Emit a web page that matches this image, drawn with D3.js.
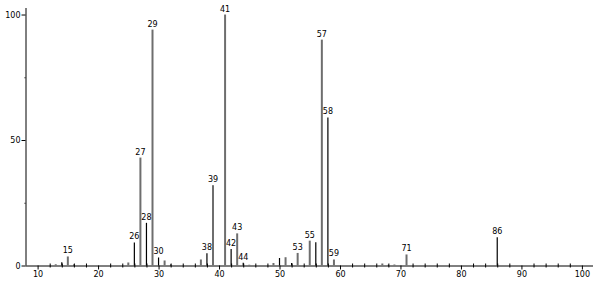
<!DOCTYPE html>
<html>
<head>
<meta charset="utf-8">
<script src="https://cdn.jsdelivr.net/npm/d3@7"></script>
<style>
  body { margin: 0; background: #fff; }
  svg text { font-family: "DejaVu Sans", sans-serif; font-size: 8px; fill: #000; }
  .axis path, .axis line { stroke: #000; }
</style>
</head>
<body>
<div id="chart"></div>
<script>
// m/z values and relative intensities
var masses      = [13, 14, 15, 16, 25, 26, 27, 28, 29, 30, 31, 32, 37, 38, 39, 41, 42, 43, 44, 45, 49, 50, 51, 52, 53, 55, 56, 57, 58, 59, 67, 68, 69, 71, 86];
var intensities = [0.5, 1.3, 3.6, 0.4, 1.2, 9.2, 43, 17, 94, 3.2, 2, 0.4, 2.4, 4.9, 32, 100, 6.6, 12.8, 1.1, 0.3, 1, 3, 3.3, 1, 5, 9.9, 9.3, 90, 59, 2.4, 0.8, 0.3, 0.4, 4.4, 11.3];
var labelled    = [15, 26, 27, 28, 29, 30, 38, 39, 41, 42, 43, 44, 53, 55, 57, 58, 59, 71, 86];
var xMajor      = [10, 20, 30, 40, 50, 60, 70, 80, 90, 100];
var yTicks      = [0, 50, 100];
var yMinor      = [25, 75];

var width = 595, height = 282;

var svg = d3.select("#chart").append("svg")
    .attr("width", width)
    .attr("height", height);

var x = d3.scaleLinear().domain([8, 102]).range([25.5, 594]);
var y = d3.scaleLinear().domain([0, 102.6]).range([265.5, 8]);

var peaks = masses.map(function (m, i) { return { m: m, v: intensities[i] }; });

// minor x ticks every 2
var xMinor = d3.range(10, 102, 2).filter(function (d) { return d % 10 != 0; });
svg.append("g").attr("class", "axis")
    .attr("transform", "translate(0," + y(0) + ")")
    .call(d3.axisBottom(x).tickValues(xMinor).tickSize(2).tickFormat(""))
    .call(function (g) { g.select(".domain").remove(); })
    .selectAll("line").attr("y1", -2);

var gx = svg.append("g").attr("class", "axis")
    .attr("transform", "translate(0," + y(0) + ")")
    .call(d3.axisBottom(x).tickValues(xMajor).tickSize(4).tickSizeOuter(0).tickPadding(2));
gx.select(".domain").attr("d", "M" + x(8) + ",0.5H" + 593);
gx.selectAll("text").style("font-size", "8px");

var gy = svg.append("g").attr("class", "axis")
    .attr("transform", "translate(" + x(8) + ",0)")
    .call(d3.axisLeft(y).tickValues(yTicks).tickSize(4).tickSizeOuter(0).tickPadding(1));
gy.select(".domain").attr("d", "M0.5," + y(0) + "V" + y(102.6));

svg.append("g").attr("class", "axis")
    .attr("transform", "translate(" + x(8) + ",0)")
    .call(d3.axisLeft(y).tickValues(yMinor).tickSize(1).tickFormat(""))
    .select(".domain").remove();

// peaks: odd masses drawn grey and wider, even masses thin black
svg.append("g").selectAll("line")
    .data(peaks)
    .enter().append("line")
    .attr("x1", function (d) { return x(d.m); })
    .attr("x2", function (d) { return x(d.m); })
    .attr("y1", y(0))
    .attr("y2", function (d) { return y(d.v); })
    .style("stroke", function (d) { return d.m % 2 ? "#6e6e6e" : "#000"; })
    .style("stroke-width", function (d) { return d.m % 2 ? 2 : 1.2; });

svg.append("g").selectAll("text")
    .data(peaks.filter(function (d) { return labelled.indexOf(d.m) >= 0; }))
    .enter().append("text")
    .attr("x", function (d) { return x(d.m); })
    .attr("y", function (d) { return y(d.v) - 3; })
    .attr("text-anchor", "middle")
    .text(function (d) { return d.m; });
</script>
</body>
</html>
